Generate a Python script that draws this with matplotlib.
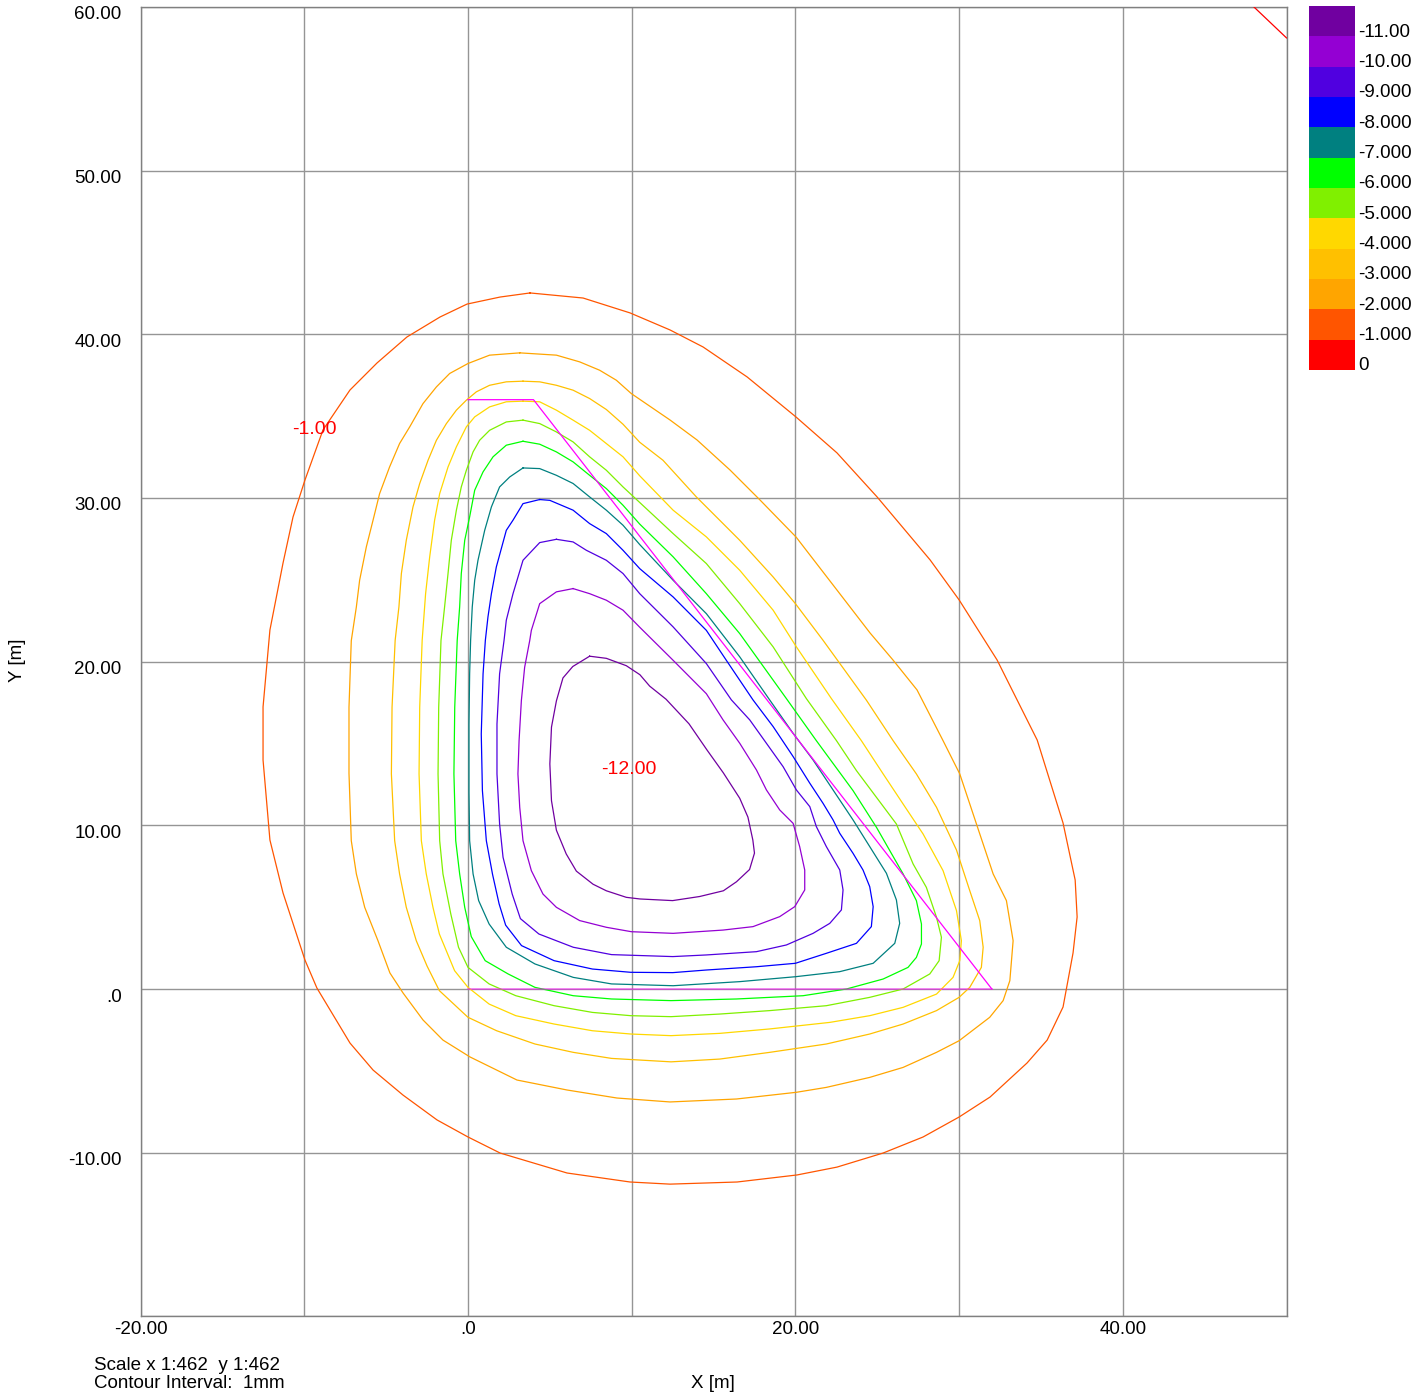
import matplotlib
matplotlib.use("Agg")
import matplotlib.pyplot as plt
import matplotlib.transforms as mtransforms

plt.rcParams['font.family'] = ['Liberation Sans', 'DejaVu Sans']

# ---------------- data ----------------
contour_levels = [-1, -2, -3, -4, -5, -6, -7, -8, -9, -10, -11]

band_values = [-11, -10, -9, -8, -7, -6, -5, -4, -3, -2, -1, 0]
band_labels = ['-11.00', '-10.00', '-9.000', '-8.000', '-7.000', '-6.000',
               '-5.000', '-4.000', '-3.000', '-2.000', '-1.000', '0']
band_colors = ['#7000A0', '#9400D3', '#5000E0', '#0000FF', '#008080', '#00FF00',
               '#80F000', '#FFD800', '#FFC000', '#FFA500', '#FF5500', '#FF0000']

xtick_values = [-20, -10, 0, 10, 20, 30, 40, 50]
xtick_labels = ['-20.00', '', '.0', '', '20.00', '', '40.00', '']
ytick_values = [-20, -10, 0, 10, 20, 30, 40, 50, 60]
ytick_labels = ['', '-10.00', '.0', '10.00', '20.00', '30.00', '40.00', '50.00', '60.00']

# load outline (trapezoid) [m]
load_x = [0, 4, 32]
load_y = [36, 36, 0]
load_base_x = [0, 32]
load_base_y = [0, 0]

# contour polylines [m]
c_m1 = [(3.79, 42.52), (7.03, 42.21), (9.90, 41.30), (12.34, 40.26), (14.36, 39.22), (17.05, 37.39),
        (20.04, 34.94), (22.54, 32.75), (24.99, 30.06), (28.23, 26.21), (30.0, 23.77), (32.32, 20.10),
        (34.77, 15.21), (36.35, 10.14), (37.09, 6.66), (37.21, 4.40), (36.96, 2.20), (36.35, -1.10),
        (35.38, -3.12), (34.15, -4.52), (31.89, -6.60), (30.0, -7.82), (27.80, -9.04), (25.36, -10.02),
        (22.54, -10.88), (20.10, -11.36), (16.44, -11.79), (12.34, -11.92), (9.90, -11.79), (6.05, -11.24),
        (1.96, -10.02), (0.0, -9.04), (-1.89, -8.00), (-3.97, -6.48), (-5.80, -4.95), (-7.21, -3.30),
        (-9.23, 0.06), (-9.96, 1.77), (-11.30, 5.87), (-12.10, 9.10), (-12.52, 13.99), (-12.52, 17.23),
        (-12.10, 21.93), (-11.30, 26.02), (-10.69, 28.83), (-9.96, 31.09), (-8.86, 34.15), (-7.21, 36.59),
        (-5.56, 38.24), (-3.73, 39.83), (-1.71, 41.05), (-0.06, 41.84), (1.96, 42.27), (3.79, 42.52)]

c_m2 = [(3.16, 38.86), (5.40, 38.72), (6.82, 38.31), (8.04, 37.80), (9.06, 37.19), (9.98, 36.37),
        (12.34, 34.76), (13.99, 33.54), (16.01, 31.70), (17.84, 29.87), (20.04, 27.61), (22.54, 24.37),
        (24.56, 21.75), (25.96, 20.10), (27.43, 18.27), (29.02, 15.17), (30.04, 13.14), (31.06, 10.08),
        (32.08, 7.03), (32.89, 5.40), (33.30, 2.95), (33.10, 0.51), (32.69, -0.71), (31.87, -1.73),
        (30.0, -3.16), (28.62, -3.87), (26.58, -4.79), (24.54, -5.40), (21.89, -6.01), (20.06, -6.31),
        (16.40, -6.72), (12.34, -6.90), (9.10, -6.66), (6.05, -6.17), (2.99, -5.56), (0.12, -4.15),
        (-1.53, -3.12), (-2.75, -1.89), (-3.97, -0.24), (-4.77, 0.98), (-5.50, 2.95), (-6.31, 4.99),
        (-6.82, 7.03), (-7.13, 9.06), (-7.27, 13.17), (-7.27, 17.21), (-7.13, 21.28), (-6.82, 23.34),
        (-6.62, 24.97), (-6.21, 27.01), (-5.80, 28.64), (-5.40, 30.26), (-4.79, 31.89), (-4.18, 33.32),
        (-3.56, 34.34), (-2.75, 35.76), (-1.93, 36.78), (-1.12, 37.60), (0.0, 38.21), (1.32, 38.72),
        (3.16, 38.86)]

c_m3 = [(3.36, 37.13), (4.38, 37.09), (5.40, 36.88), (6.42, 36.58), (7.43, 36.07), (8.45, 35.40),
        (9.47, 34.50), (10.49, 33.40), (11.91, 32.30), (13.95, 30.06), (16.60, 27.41), (18.64, 25.17),
        (20.0, 23.54), (21.69, 21.30), (24.34, 17.64), (25.97, 15.17), (27.39, 13.14), (28.62, 11.10),
        (29.84, 8.49), (30.65, 6.01), (31.26, 4.18), (31.47, 2.55), (31.36, 1.32), (30.65, 0.10),
        (30.0, -0.51), (28.62, -1.32), (26.58, -2.14), (24.54, -2.75), (21.89, -3.36), (18.43, -3.87),
        (15.38, -4.28), (12.40, -4.45), (8.77, -4.24), (6.43, -3.87), (4.09, -3.36), (1.75, -2.55),
        (0.0, -1.73), (-1.75, -0.10), (-2.50, 1.40), (-3.16, 2.95), (-3.77, 4.99), (-4.18, 7.03),
        (-4.48, 9.06), (-4.68, 13.14), (-4.64, 17.21), (-4.45, 21.30), (-4.22, 23.34), (-4.07, 25.38),
        (-3.77, 27.41), (-3.36, 29.45), (-2.95, 30.88), (-2.44, 32.30), (-1.93, 33.52), (-1.32, 34.54),
        (-0.71, 35.36), (-0.10, 35.97), (0.51, 36.48), (1.32, 36.88), (2.34, 37.09), (3.36, 37.13)]

c_m4 = [(3.36, 35.91), (4.38, 35.87), (5.40, 35.36), (6.42, 34.75), (7.43, 34.13), (8.45, 33.32),
        (9.47, 32.51), (10.49, 31.35), (12.53, 29.25), (14.56, 27.62), (16.60, 25.58), (18.64, 23.14),
        (20.06, 20.90), (22.20, 17.74), (24.03, 15.17), (25.36, 13.14), (26.58, 11.30), (27.80, 9.47),
        (29.02, 7.23), (29.84, 4.79), (30.14, 2.95), (30.04, 1.73), (29.63, 0.71), (28.62, -0.31),
        (26.58, -1.12), (24.54, -1.63), (22.10, -2.04), (18.43, -2.44), (15.38, -2.71), (12.40, -2.85),
        (9.94, -2.75), (7.60, -2.55), (5.26, -2.14), (2.92, -1.63), (1.29, -0.92), (0.0, 0.10),
        (-0.82, 1.12), (-1.75, 3.36), (-2.14, 4.99), (-2.55, 7.03), (-2.85, 9.06), (-2.99, 13.14),
        (-2.95, 17.21), (-2.80, 21.30), (-2.59, 24.15), (-2.34, 26.40), (-2.04, 28.64), (-1.73, 30.26),
        (-1.22, 31.89), (-0.71, 33.12), (-0.10, 34.34), (0.41, 34.95), (1.32, 35.56), (2.34, 35.87),
        (3.36, 35.91)]

c_m5 = [(3.36, 34.75), (4.38, 34.54), (5.40, 34.03), (6.42, 33.42), (7.43, 32.51), (8.45, 31.69),
        (9.47, 30.67), (10.49, 29.72), (12.53, 27.82), (14.56, 25.99), (16.60, 23.54), (18.64, 20.90),
        (20.67, 17.74), (22.51, 15.17), (23.73, 13.34), (24.95, 11.71), (26.17, 10.08), (27.19, 7.64),
        (28.00, 6.21), (28.62, 4.38), (28.92, 3.16), (28.78, 1.73), (28.21, 0.92), (26.58, 0.0),
        (24.54, -0.51), (21.89, -1.02), (18.43, -1.32), (15.38, -1.53), (12.40, -1.69), (9.94, -1.63),
        (7.60, -1.43), (5.26, -1.02), (2.92, -0.41), (1.29, 0.31), (0.0, 1.32), (-0.58, 2.55),
        (-1.05, 4.58), (-1.53, 7.03), (-1.73, 9.06), (-1.83, 13.14), (-1.79, 17.21), (-1.65, 21.29),
        (-1.43, 23.34), (-1.22, 25.38), (-1.02, 27.41), (-0.71, 29.25), (-0.41, 30.67), (-0.10, 31.69),
        (0.31, 32.81), (0.71, 33.52), (1.32, 34.13), (2.34, 34.64), (3.36, 34.75)]

c_m6 = [(3.36, 33.46), (4.38, 33.28), (5.40, 32.81), (6.42, 32.20), (7.43, 31.38), (8.45, 30.57),
        (9.47, 29.55), (10.49, 28.40), (12.53, 26.40), (14.56, 24.15), (16.60, 21.71), (19.45, 17.74),
        (21.28, 15.17), (23.52, 12.12), (24.95, 9.88), (26.58, 7.03), (27.39, 5.40), (27.70, 3.97),
        (27.70, 2.75), (27.39, 1.93), (26.88, 1.32), (25.36, 0.61), (23.12, 0.0), (20.47, -0.41),
        (16.40, -0.61), (12.40, -0.71), (8.77, -0.61), (6.43, -0.41), (4.09, 0.10), (2.45, 0.92),
        (1.05, 1.73), (0.20, 3.20), (-0.20, 4.99), (-0.51, 7.03), (-0.75, 9.06), (-0.86, 13.14),
        (-0.81, 17.21), (-0.66, 21.29), (-0.51, 23.34), (-0.41, 25.38), (-0.20, 27.41), (0.10, 28.84),
        (0.41, 30.47), (0.92, 31.59), (1.53, 32.51), (2.34, 33.22), (3.36, 33.46)]

c_m7 = [(3.36, 31.83), (4.38, 31.79), (5.40, 31.38), (6.42, 30.88), (7.43, 30.06), (8.45, 29.25),
        (9.47, 28.33), (10.49, 27.15), (12.53, 24.97), (14.56, 22.93), (16.60, 20.29), (18.40, 17.70),
        (19.86, 15.62), (21.08, 13.99), (22.30, 12.16), (23.52, 10.33), (24.54, 8.70), (25.56, 7.07),
        (26.17, 5.44), (26.37, 4.01), (26.07, 2.79), (24.75, 1.57), (22.71, 1.06), (20.0, 0.75),
        (16.60, 0.45), (12.53, 0.20), (8.77, 0.31), (6.43, 0.71), (4.09, 1.53), (2.34, 2.55),
        (1.29, 3.97), (0.65, 5.40), (0.31, 7.03), (0.10, 9.06), (0.06, 12.0), (0.06, 16.19),
        (0.10, 19.25), (0.16, 21.30), (0.26, 23.34), (0.41, 24.97), (0.61, 26.19), (1.02, 28.02),
        (1.43, 29.45), (1.93, 30.67), (2.55, 31.28), (3.36, 31.83)]

c_m8 = [(4.38, 29.90), (5.0, 29.85), (6.42, 29.25), (7.43, 28.43), (8.45, 27.82), (9.47, 26.80),
        (10.49, 25.68), (12.53, 23.95), (14.56, 21.91), (15.78, 20.08), (17.41, 17.66), (18.64, 16.03),
        (19.86, 14.20), (20.88, 12.57), (21.69, 11.34), (22.30, 10.33), (22.71, 9.51), (23.52, 8.29),
        (24.13, 7.27), (24.54, 6.25), (24.75, 5.03), (24.64, 3.81), (23.73, 2.79), (21.89, 2.18),
        (20.0, 1.57), (17.62, 1.36), (14.56, 1.16), (12.51, 1.0), (9.94, 1.02), (7.60, 1.22),
        (5.26, 1.73), (3.27, 2.65), (2.30, 3.90), (1.90, 5.20), (1.50, 7.0), (1.12, 9.06),
        (0.88, 12.12), (0.81, 15.58), (0.92, 19.25), (1.06, 21.30), (1.22, 22.73), (1.43, 24.15),
        (1.73, 25.78), (2.34, 28.02), (2.75, 28.64), (3.36, 29.65), (4.38, 29.90)]

c_m9 = [(5.40, 27.47), (6.42, 27.31), (7.23, 26.80), (8.45, 26.19), (9.47, 25.38), (10.49, 24.15),
        (12.53, 22.12), (14.56, 19.88), (16.09, 17.66), (17.21, 16.44), (18.23, 15.01), (19.25, 13.58),
        (20.06, 12.16), (20.88, 11.14), (21.28, 9.92), (21.89, 8.70), (22.71, 7.27), (22.91, 6.05),
        (22.81, 4.83), (22.10, 4.01), (21.08, 3.40), (19.45, 2.69), (17.62, 2.28), (14.56, 2.08),
        (12.51, 1.98), (8.77, 2.10), (6.43, 2.55), (4.33, 3.36), (3.20, 4.30), (2.70, 5.80),
        (2.14, 8.05), (1.93, 10.08), (1.77, 13.14), (1.77, 16.19), (1.93, 19.25), (2.20, 21.28),
        (2.34, 22.53), (2.75, 24.15), (3.36, 26.19), (4.38, 27.27), (5.40, 27.47)]

c_m10 = [(6.42, 24.46), (7.43, 24.15), (8.45, 23.75), (9.47, 23.14), (10.49, 22.10), (12.53, 20.08),
         (14.56, 18.04), (15.58, 16.44), (16.60, 15.01), (17.62, 13.38), (18.23, 12.16), (19.04, 10.94),
         (19.86, 10.12), (20.26, 8.70), (20.57, 7.27), (20.57, 6.05), (19.96, 5.03), (19.04, 4.42),
         (17.41, 3.81), (15.58, 3.60), (12.53, 3.40), (9.98, 3.50), (8.45, 3.77), (6.82, 4.18),
         (5.40, 4.99), (4.58, 5.80), (3.87, 7.23), (3.36, 9.06), (3.16, 11.10), (3.05, 13.14),
         (3.12, 15.17), (3.26, 17.62), (3.46, 19.65), (3.77, 21.28), (3.87, 21.91), (4.38, 23.54),
         (5.40, 24.26), (6.42, 24.46)]

c_m11 = [(7.43, 20.33), (8.45, 20.20), (9.67, 19.75), (10.50, 19.20), (11.10, 18.50), (12.10, 17.70),
         (13.50, 16.20), (14.60, 14.60), (15.60, 13.20), (16.60, 11.65), (17.10, 10.50), (17.40, 9.10),
         (17.50, 8.30), (17.20, 7.30), (16.40, 6.55), (15.60, 6.00), (14.15, 5.65), (12.50, 5.40),
         (10.50, 5.50), (9.67, 5.60), (8.45, 6.00), (7.64, 6.40), (6.62, 7.20), (6.00, 8.25),
         (5.40, 9.70), (5.10, 11.50), (5.00, 13.75), (5.10, 16.00), (5.40, 17.60), (5.80, 19.00),
         (6.40, 19.70), (7.43, 20.33)]

c_0 = [(48.0, 60.0), (50.0, 58.1)]

contour_paths = [c_m1, c_m2, c_m3, c_m4, c_m5, c_m6, c_m7, c_m8, c_m9, c_m10, c_m11]

max_label = '-12.00'
max_label_pos = (9.80, 13.38)
line_label = '-1.00'
line_label_pos = (-9.41, 34.15)

# ---------------- figure ----------------
W, H = 1427, 1399
fig = plt.figure(figsize=(W / 100, H / 100), dpi=100)
ax = fig.add_axes([140.6 / W, 1 - 1316.4 / H, 1145.9 / W, 1309.6 / H])
ax.set_xlim(-20, 50)
ax.set_ylim(-20, 60)

ax.set_xticks(xtick_values, xtick_labels)
ax.set_yticks(ytick_values, [''] * len(ytick_values))
ax.tick_params(axis='both', length=0, labelsize=13.5, colors='black')
ax.tick_params(axis='x', pad=3)

# y tick labels sit slightly below their grid lines, as in the original
ylab_tr = ax.get_yaxis_transform() + mtransforms.ScaledTranslation(-19 / 100, -8 / 100, fig.dpi_scale_trans)
for v, lab in zip(ytick_values, ytick_labels):
    if lab:
        ax.text(0, v, lab, transform=ylab_tr, ha='right', va='center', fontsize=13.5, clip_on=False)

ax.grid(True, color='#959595', lw=1.0)
ax.set_axisbelow(True)
for sp in ax.spines.values():
    sp.set_color('#808080')
    sp.set_linewidth(1.0)

color_of = dict(zip(band_values, band_colors))
for lev, pts in zip(contour_levels, contour_paths):
    xs, ys = zip(*pts)
    ax.plot(xs, ys, color=color_of[lev], lw=0.9, zorder=3)

xs, ys = zip(*c_0)
ax.plot(xs, ys, color=color_of[0], lw=0.9, zorder=3)

ax.plot(load_x, load_y, color='#FF00FF', lw=0.9, zorder=4)
ax.plot(load_base_x, load_base_y, color='#FF00FF', lw=1.2, alpha=0.5, zorder=4)

ax.text(*line_label_pos, line_label, color='red', fontsize=14, ha='center', va='center', zorder=5)
ax.text(*max_label_pos, max_label, color='red', fontsize=14, ha='center', va='center', zorder=5)

# colour legend
cax = fig.add_axes([1309 / W, 1 - 370 / H, 46 / W, 364 / H])
for i, col in enumerate(band_colors):
    cax.barh(i + 0.5, 1, height=1.0, left=0, color=col, edgecolor='none')
    cax.text(1.07, i + 0.86, band_labels[i], ha='left', va='center', fontsize=13.5)
cax.set_xlim(0, 1)
cax.set_ylim(len(band_colors), 0)
cax.axis('off')

fig.text(17 / W, 1 - 660 / H, 'Y [m]', rotation=90, ha='center', va='center', fontsize=13.5)
fig.text(713 / W, 1 - 1384 / H, 'X [m]', ha='center', va='center', fontsize=13.5)
fig.text(94 / W, 1 - 1365 / H, 'Scale x 1:462  y 1:462', ha='left', va='center', fontsize=13.5)
fig.text(94 / W, 1 - 1384 / H, 'Contour Interval:  1mm', ha='left', va='center', fontsize=13.5)

fig.savefig('out.png', dpi=100)
